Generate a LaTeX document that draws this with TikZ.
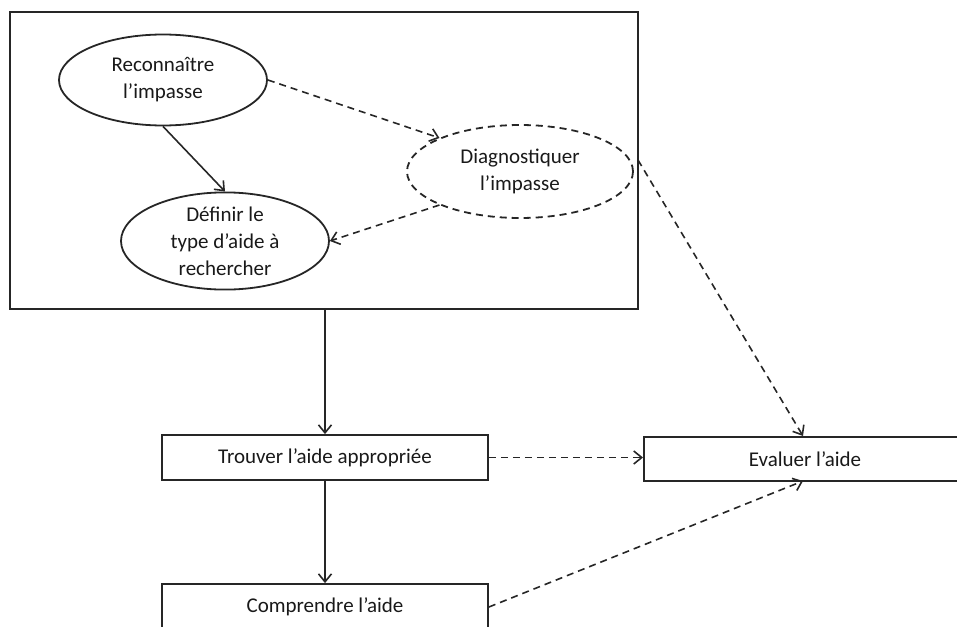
\documentclass[tikz,border=0pt]{standalone}
\usepackage{fontspec}
\setmainfont{Carlito}
\usetikzlibrary{shapes.geometric,arrows.meta}
\begin{document}
\begin{tikzpicture}[x=1pt,y=-1pt,
  every node/.style={font=\fontsize{21}{27}\selectfont, text=black!90},
  ell/.style={ellipse, draw=black!85, line width=1.8pt, inner sep=0pt, align=center},
  dell/.style={ell, dash pattern=on 7pt off 5pt},
  rbox/.style={rectangle, draw=black!85, line width=1.8pt, inner sep=0pt},
  solidarrow/.style={draw=black!85, line width=1.6pt, -{Straight Barb[length=8pt,width=13pt,line width=1.6pt]}},
  dasharrow/.style={solidarrow, dash pattern=on 7pt off 5pt}]
\useasboundingbox (0,0) rectangle (957,626);
\clip (0,0) rectangle (957,626);
% outer frame
\node[rbox, minimum width=628pt, minimum height=297pt] (frame) at (324,160.5) {};
% ellipses
\node[ell, minimum width=208pt, minimum height=91pt] (rec) at (163,80) {Reconnaître\\l’impasse};
\node[ell, minimum width=208pt, minimum height=92pt] (def) at (225,241) {Définir le\\type d’aide à\\rechercher};
\node[dell, minimum width=226pt, minimum height=93pt] (diag) at (520,171.5) {Diagnostiquer\\l’impasse};
% boxes
\node[rbox, minimum width=326pt, minimum height=45pt] (trouv) at (325,457.5) {Trouver l’aide appropriée};
\node[rbox, minimum width=326pt, minimum height=46pt] (comp) at (325,607) {Comprendre l’aide};
\node[rbox, minimum width=330pt, minimum height=44pt, anchor=west] (eval) at (643,459) {};
\node (evaltxt) at (805,459) {Evaluer l’aide};
% connectors
\draw[solidarrow] (rec.south) -- (def.north);
\draw[dasharrow] (rec.east) -- (diag.north west);
\draw[dasharrow] (diag.south west) -- (def.east);
\coordinate (fr) at (638,160);
\draw[dasharrow] (fr) -- (803,436);
\draw[solidarrow] (frame.south -| trouv.north) -- (trouv.north);
\draw[solidarrow] (trouv.south) -- (comp.north);
\draw[dasharrow] (trouv.east) -- (trouv.east -| eval.west);
\draw[dasharrow] (comp.east) -- (803,481);
\end{tikzpicture}
\end{document}
